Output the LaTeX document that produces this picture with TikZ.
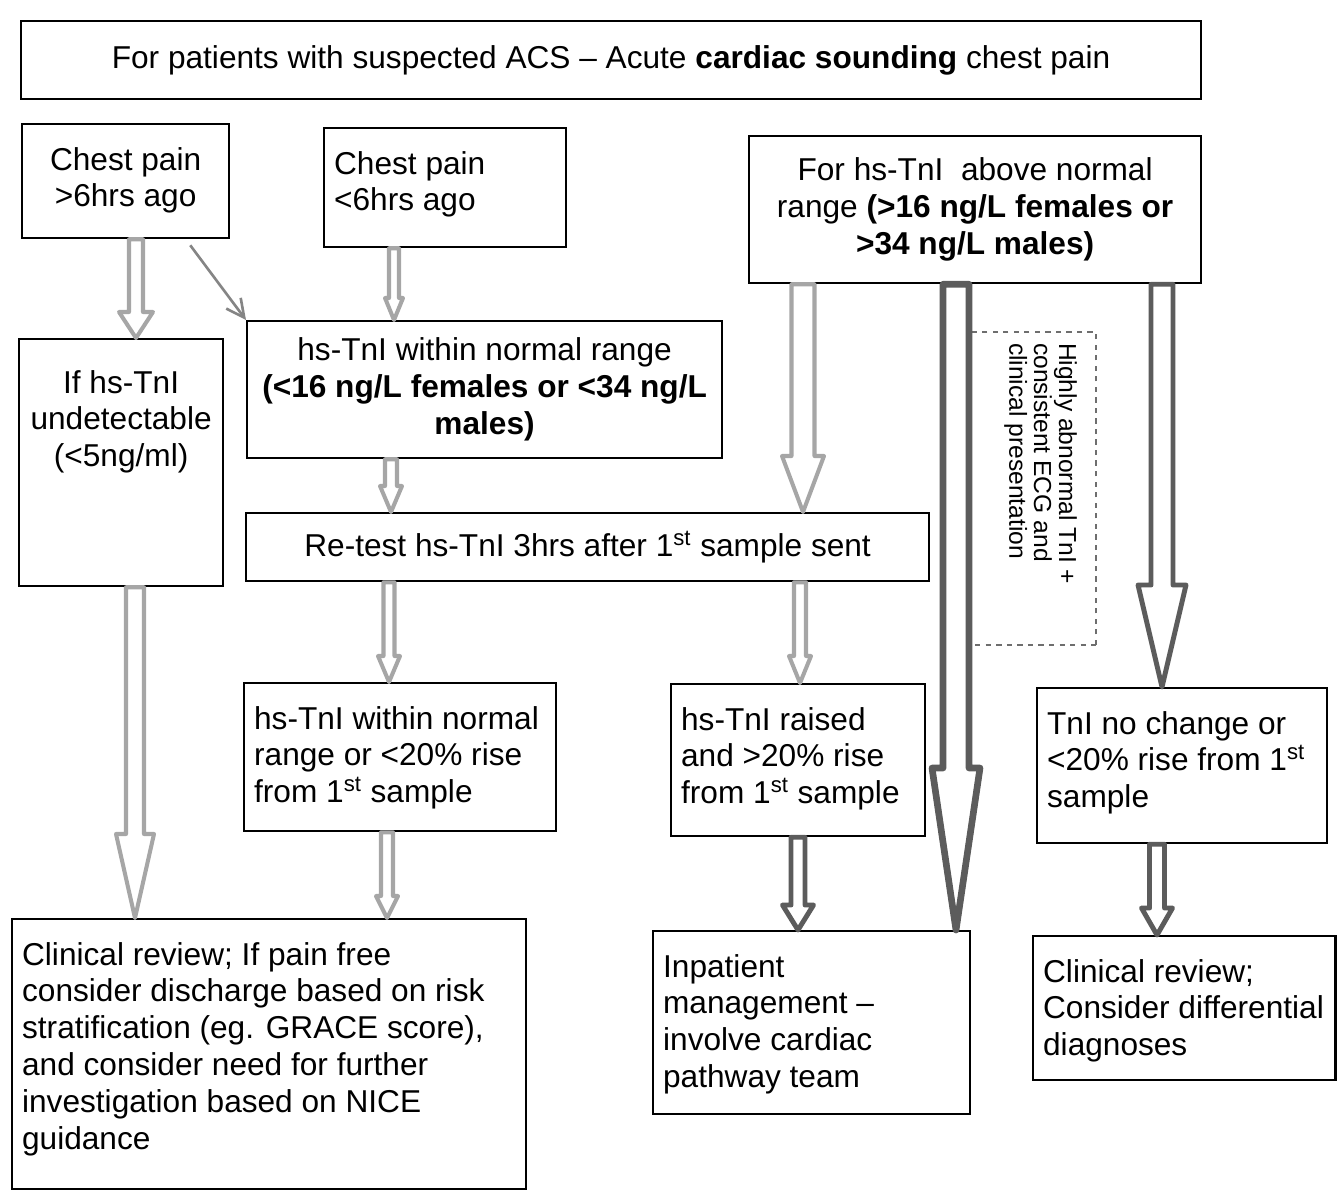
\documentclass[tikz,border=0pt]{standalone}
\usepackage{fontspec}
\setmainfont{Liberation Sans}
\usepackage{tikz}
\usetikzlibrary{arrows.meta,calc}
\definecolor{flowLight}{RGB}{166,166,166}
\definecolor{flowDark}{RGB}{92,92,92}
\definecolor{flowNote}{RGB}{110,110,110}
\newcommand{\boxtext}[3]{\parbox[t][#2][t]{#1}{#3}}
% hollow block arrow: [style]{start}{tip}{shaft half}{head half}{head length}
\newcommand{\blockarrow}[6][]{%
  \draw[#1] ($(#2)+(-#4,0)$) -- ($(#3)+(-#4,-#6)$) -- ($(#3)+(-#5,-#6)$) -- (#3)
    -- ($(#3)+(#5,-#6)$) -- ($(#3)+(#4,-#6)$) -- ($(#2)+(#4,0)$) -- cycle;}

\begin{document}
\begin{tikzpicture}[x=0.02cm,y=-0.02cm,
        box/.style={draw,line width=1.3pt,anchor=north west,inner xsep=0.2cm,inner ysep=0.46cm,font=\fontsize{18}{21}\selectfont},
        cbox/.style={draw,line width=1.3pt,anchor=north west,align=center,inner sep=0pt,font=\fontsize{18}{21}\selectfont},
        notebox/.style={draw=flowNote,line width=0.8pt,dash pattern=on 3pt off 3pt,inner xsep=0.22cm,inner ysep=0.38cm,font=\fontsize{14}{14.2}\selectfont},
        light/.style={draw=flowLight,line width=2.3pt,fill=white,line join=round},
        dark/.style={draw=flowDark,line width=2.8pt,fill=white,line join=round},
        darkbig/.style={draw=flowDark,line width=3.8pt,fill=white,line join=round},
        thin/.style={draw=flowLight!80!black,line width=1.5pt,-{Straight Barb[length=0.36cm,width=0.36cm]}}
      ]
        \useasboundingbox (0,0) rectangle (1337,1190);
        % boxes
        \node[cbox,minimum width=23.6cm,minimum height=1.56cm] (acs) at (20,20) {For patients with suspected ACS -- Acute \textbf{cardiac sounding} chest pain};
        \node[box] (late) at (21,123) {\boxtext{3.74cm}{1.36cm}{\centering Chest pain\\>6hrs ago}};
        \node[box] (early) at (323,127) {\boxtext{4.44cm}{1.46cm}{\raggedright Chest pain\\<6hrs ago}};
        \node[cbox,minimum width=9.04cm,minimum height=2.94cm] (high) at (748,135) {For hs-TnI\ \ above normal\\range \textbf{(>16 ng/L females or}\\\textbf{>34 ng/L males)}};
        \node[cbox,minimum width=9.5cm,minimum height=2.74cm] (normal) at (246,320) {hs-TnI within normal range\\\textbf{(<16 ng/L females or <34 ng/L}\\\textbf{males)}};
        \node[box,inner ysep=0.62cm] (undet) at (18,338) {\boxtext{3.68cm}{3.7cm}{\centering If hs-TnI\\undetectable\\(<5ng/ml)}};
        \node[cbox,minimum width=13.66cm,minimum height=1.36cm] (retest) at (245,512) {Re-test hs-TnI 3hrs after 1\textsuperscript{st} sample sent};
        \node[box] (lowrise) at (243,682) {\boxtext{5.84cm}{2.04cm}{\raggedright hs-TnI within normal\\range or <20\% rise\\from 1\textsuperscript{st} sample}};
        \node[box] (raised) at (670,683) {\boxtext{4.68cm}{2.12cm}{\raggedright hs-TnI raised\\and >20\% rise\\from 1\textsuperscript{st} sample}};
        \node[box] (nochange) at (1036,687) {\boxtext{5.4cm}{2.18cm}{\raggedright TnI no change or\\<20\% rise from 1\textsuperscript{st}\\sample}};
        \node[box] (discharge) at (11,918) {\boxtext{9.88cm}{4.48cm}{\raggedright Clinical review; If pain free\\consider discharge based on risk\\stratification (eg. GRACE score),\\and consider need for further\\investigation based on NICE\\guidance}};
        \node[box] (inpatient) at (652,930) {\boxtext{5.94cm}{2.74cm}{\raggedright Inpatient\\management --\\involve cardiac\\pathway team}};
        \node[box] (differential) at (1032,935) {\boxtext{5.65cm}{1.96cm}{\raggedright Clinical review;\\Consider differential\\diagnoses}};
        \node[notebox,rotate=-90] (note) at (1032.5,488.5) {\boxtext{5.82cm}{1.78cm}{\raggedright Highly abnormal TnI +\\consistent ECG and\\clinical presentation}};
        % arrows
        \draw[thin] ($(late.south east)+(-40,6)$) -- (normal.north west);
        \blockarrow[light]{136,0 |- late.south}{136,0 |- undet.north}{7}{17}{26}
        \blockarrow[light]{394,0 |- early.south}{394,0 |- normal.north}{5}{9}{22}
        \blockarrow[light]{391,0 |- normal.south}{391,0 |- retest.north}{6}{11}{26}
        \blockarrow[light]{135,0 |- undet.south}{135,0 |- discharge.north}{9}{19}{84}
        \blockarrow[light]{389,0 |- retest.south}{389,0 |- lowrise.north}{5.5}{11}{26}
        \blockarrow[light]{387,0 |- lowrise.south}{387,0 |- discharge.north}{6}{11}{22}
        \blockarrow[light]{803,0 |- high.south}{803,0 |- retest.north}{11.5}{21}{56}
        \blockarrow[light]{800,0 |- retest.south}{800,0 |- raised.north}{6}{11}{27}
        \blockarrow[dark]{798,0 |- raised.south}{798,0 |- inpatient.north}{7}{15.5}{25}
        \blockarrow[darkbig]{956,0 |- high.south}{956,0 |- inpatient.north}{13}{24}{162}
        \blockarrow[dark]{1162,0 |- high.south}{1162,0 |- nochange.north}{11}{24}{102}
        \blockarrow[dark]{1157,0 |- nochange.south}{1157,0 |- differential.north}{7.5}{15.5}{27}
      \end{tikzpicture}
\end{document}
